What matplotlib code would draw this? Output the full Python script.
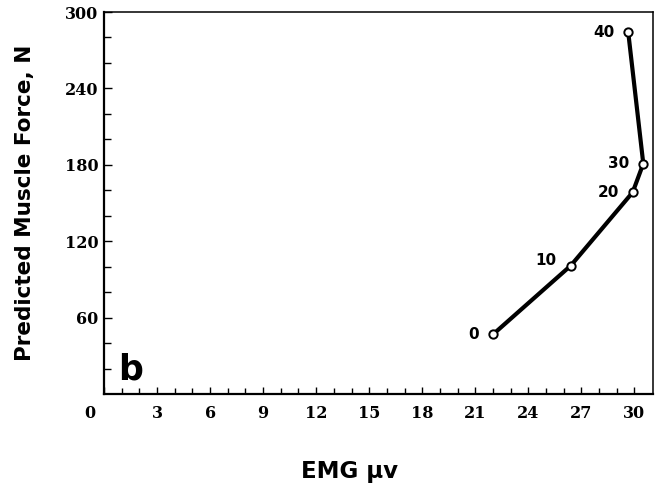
import matplotlib
matplotlib.use("Agg")
import matplotlib.pyplot as plt
import matplotlib.transforms as mtransforms
import numpy as np

# data (label = % of max effort)
point_labels = ["0", "10", "20", "30", "40"]
emg_uv = [22.0, 26.4, 29.9, 30.5, 29.65]
muscle_force = [47, 101, 158.5, 181, 284]

x_ticks = [0, 3, 6, 9, 12, 15, 18, 21, 24, 27, 30]
y_ticks = [60, 120, 180, 240, 300]

fig = plt.figure(figsize=(6.59, 4.88), dpi=100)
ax = fig.add_axes([0.1578, 0.192, 0.8331, 0.7834])

ax.plot(emg_uv, muscle_force, color="black", lw=3.0, solid_capstyle="round",
        zorder=2)
ax.plot(emg_uv, muscle_force, "o", ms=6, mfc="white", mec="black", mew=1.4,
        zorder=3)

offsets = {"10": (-10, 4)}
for lab, x, y in zip(point_labels, emg_uv, muscle_force):
    dx, dy = offsets.get(lab, (-10, 0))
    ax.annotate(lab, (x, y), xytext=(dx, dy), textcoords="offset points",
                ha="right", va="center", fontsize=11, fontweight="bold",
                family="DejaVu Sans")

ax.text(0.8, 12, "b", fontsize=25, fontweight="bold", family="DejaVu Sans",
        ha="left", va="baseline")

ax.set_xlim(0, 31.05)
ax.set_ylim(0, 300)

ax.set_xticks(x_ticks)
ax.set_xticklabels([str(t) for t in x_ticks])
ax.set_yticks(y_ticks)
ax.set_yticklabels([str(t) for t in y_ticks])
ax.set_xticks(np.arange(1, 31), minor=True)
ax.set_yticks(np.arange(20, 300, 20), minor=True)

ax.tick_params(axis="both", which="both", direction="in", width=1.0)
ax.tick_params(axis="x", which="major", length=5, pad=8)
ax.tick_params(axis="x", which="minor", length=4)
ax.tick_params(axis="y", which="major", length=6, pad=4)
ax.tick_params(axis="y", which="minor", length=5)

for lab in ax.get_xticklabels() + ax.get_yticklabels():
    lab.set_family("DejaVu Serif")
    lab.set_fontweight("bold")
    lab.set_fontsize(11.5)

# the "0" sits left of the corner in the original
first = ax.get_xticklabels()[0]
first.set_transform(first.get_transform() +
                    mtransforms.ScaledTranslation(-14 / 100, 0, fig.dpi_scale_trans))

for side in ["left", "bottom"]:
    ax.spines[side].set_linewidth(1.6)
for side in ["top", "right"]:
    ax.spines[side].set_linewidth(1.1)

ax.set_xlabel("EMG \u03bcv", fontsize=16.5, fontweight="bold", family="DejaVu Sans")
ax.xaxis.set_label_coords(0.448, -0.172)
ax.set_ylabel("Predicted Muscle Force, N", fontsize=15.5, fontweight="bold",
              family="DejaVu Sans")
ax.yaxis.set_label_coords(-0.126, 0.5)

fig.savefig("out.png", dpi=100)
